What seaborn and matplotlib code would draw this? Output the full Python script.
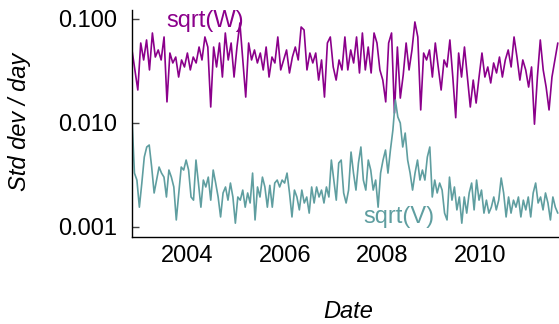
import seaborn as sns
import matplotlib.pyplot as plt
import matplotlib.dates as mdates
import matplotlib.ticker as mticker
import pandas as pd
import numpy as np

# std dev per day (log scale)
sqrt_w = [0.0503, 0.0323, 0.0207, 0.0587, 0.0403, 0.0628, 0.0323, 0.0733, 0.0430, 0.0503,
          0.0403, 0.0671, 0.0159, 0.0470, 0.0377, 0.0430, 0.0276, 0.0403, 0.0345, 0.0470,
          0.0323, 0.0430, 0.0377, 0.0537, 0.0403, 0.0671, 0.0537, 0.0142, 0.0537, 0.0345,
          0.0587, 0.0276, 0.0733, 0.0403, 0.0587, 0.0276, 0.0537, 0.0915, 0.0403, 0.0177,
          0.0587, 0.0403, 0.0503, 0.0377, 0.0470, 0.0323, 0.0537, 0.0276, 0.0430, 0.0377,
          0.0671, 0.0323, 0.0403, 0.0503, 0.0302, 0.0430, 0.0537, 0.0403, 0.0837, 0.0784,
          0.0323, 0.0470, 0.0377, 0.0470, 0.0258, 0.0403, 0.0177, 0.0587, 0.0671, 0.0345,
          0.0258, 0.0403, 0.0323, 0.0671, 0.0323, 0.0503, 0.0377, 0.0671, 0.0302, 0.0733,
          0.0323, 0.0537, 0.0302, 0.0733, 0.0587, 0.0323, 0.0258, 0.0159, 0.0587, 0.0733,
          0.0124, 0.0537, 0.0173, 0.0289, 0.0587, 0.0323, 0.0503, 0.0936, 0.0671, 0.0133,
          0.0470, 0.0403, 0.0503, 0.0276, 0.0587, 0.0345, 0.0207, 0.0403, 0.0345, 0.0628,
          0.0276, 0.0112, 0.0470, 0.0276, 0.0537, 0.0276, 0.0142, 0.0258, 0.0155, 0.0276,
          0.0470, 0.0276, 0.0345, 0.0242, 0.0377, 0.0302, 0.0430, 0.0276, 0.0403, 0.0503,
          0.0345, 0.0671, 0.0430, 0.0258, 0.0403, 0.0323, 0.0221, 0.0345, 0.0097, 0.0276,
          0.0628, 0.0323, 0.0221, 0.0133, 0.0276, 0.0403, 0.0587]

sqrt_v = [0.0111, 0.00328, 0.00281, 0.00154, 0.00263, 0.00468, 0.00585, 0.00611, 0.00375, 0.00211,
          0.00281, 0.00375, 0.00328, 0.00300, 0.00193, 0.00351, 0.00300, 0.00241, 0.00116, 0.00211,
          0.00375, 0.00351, 0.00438, 0.00351, 0.00193, 0.00180, 0.00438, 0.00263, 0.00154, 0.00281,
          0.00241, 0.00300, 0.00180, 0.00351, 0.00263, 0.00193, 0.00124, 0.00211, 0.00241, 0.00180,
          0.00263, 0.00193, 0.00108, 0.00193, 0.00180, 0.00225, 0.00154, 0.00211, 0.00169, 0.00328,
          0.00116, 0.00241, 0.00193, 0.00300, 0.00241, 0.00154, 0.00250, 0.00154, 0.00263, 0.00281,
          0.00241, 0.00281, 0.00263, 0.00328, 0.00211, 0.00124, 0.00225, 0.00193, 0.00145, 0.00225,
          0.00169, 0.00193, 0.00135, 0.00241, 0.00169, 0.00241, 0.00193, 0.00225, 0.00169, 0.00241,
          0.00193, 0.00438, 0.00281, 0.00180, 0.00410, 0.00438, 0.00211, 0.00169, 0.00225, 0.00523,
          0.00328, 0.00225, 0.00410, 0.00585, 0.00281, 0.00225, 0.00438, 0.00351, 0.00225, 0.00281,
          0.00154, 0.00328, 0.00438, 0.00547, 0.00328, 0.00547, 0.00852, 0.0166, 0.0114, 0.00996,
          0.00585, 0.00797, 0.00438, 0.00328, 0.00225, 0.00328, 0.00438, 0.00281, 0.00351, 0.00281,
          0.00468, 0.00585, 0.00193, 0.00281, 0.00211, 0.00263, 0.00225, 0.00135, 0.00116, 0.00300,
          0.00180, 0.00241, 0.00145, 0.00193, 0.00108, 0.00193, 0.00135, 0.00211, 0.00263, 0.00145,
          0.00281, 0.00180, 0.00225, 0.00135, 0.00180, 0.00135, 0.00154, 0.00193, 0.00145, 0.00180,
          0.00294, 0.00211, 0.00124, 0.00193, 0.00135, 0.00180, 0.00154, 0.00193, 0.00124, 0.00180,
          0.00145, 0.00193, 0.00124, 0.00211, 0.00263, 0.00169, 0.00193, 0.00145, 0.00211, 0.00169,
          0.00116, 0.00193, 0.00154, 0.00135]

start_date = '2002-11-16'
end_date = '2011-08-05'

year_labels = ['2004', '2006', '2008', '2010']
tick_years = [2003, 2004, 2005, 2006, 2007, 2008, 2009, 2010, 2011]
y_ticks = [0.001, 0.01, 0.1]
y_tick_labels = ['0.001', '0.010', '0.100']

df_w = pd.DataFrame({'Date': pd.date_range(start_date, end_date, periods=len(sqrt_w)), 'sd': sqrt_w})
df_v = pd.DataFrame({'Date': pd.date_range(start_date, end_date, periods=len(sqrt_v)), 'sd': sqrt_v})

sns.set_style('white')
plt.rcParams['font.family'] = ['Liberation Sans', 'DejaVu Sans']
plt.rcParams['text.color'] = 'black'
plt.rcParams['xtick.color'] = 'black'
plt.rcParams['ytick.color'] = 'black'

purple = '#8b008b'
teal = '#5f9ea0'

fig = plt.figure(figsize=(5.59, 3.24), dpi=100)
ax = fig.add_axes([0.2361, 0.2694, 0.7639, 0.6997])

sns.lineplot(data=df_w, x='Date', y='sd', color=purple, linewidth=1.2, ax=ax)
sns.lineplot(data=df_v, x='Date', y='sd', color=teal, linewidth=1.2, ax=ax)

ax.set_yscale('log')
ax.set_ylim(0.0008, 0.122)
ax.set_xlim(mdates.date2num(pd.Timestamp('2002-11-16')), mdates.date2num(pd.Timestamp('2011-08-14')))

ax.yaxis.set_major_locator(mticker.FixedLocator(y_ticks))
ax.yaxis.set_major_formatter(mticker.FixedFormatter(y_tick_labels))
ax.yaxis.set_minor_locator(mticker.NullLocator())

# year labels sit at Jan 1, the small tick marks at mid-year
ax.set_xticks([mdates.date2num(pd.Timestamp(y + '-01-01')) for y in year_labels])
ax.set_xticklabels(year_labels)
ax.set_xticks([mdates.date2num(pd.Timestamp(f'{y}-07-01')) for y in tick_years], minor=True)

ax.tick_params(axis='x', which='major', length=0, pad=6, labelsize=17, labelcolor='black')
ax.tick_params(axis='x', which='minor', direction='in', length=5, width=1, color='#444444')
ax.tick_params(axis='y', which='major', direction='in', length=5, width=1, pad=11,
               labelsize=17, color='#444444', labelcolor='black', left=True)

for side in ['top', 'right']:
    ax.spines[side].set_visible(False)
for side in ['left', 'bottom']:
    ax.spines[side].set_color('black')
    ax.spines[side].set_linewidth(1)

ax.set_xlabel('')
ax.set_ylabel('')

fig.text(0.035, 0.625, 'Std dev / day', rotation=90, ha='center', va='center',
         fontsize=17, style='italic', color='black')
fig.text(0.6225, 0.0185, 'Date', ha='center', va='baseline', fontsize=17, style='italic',
         color='black')
fig.text(0.297, 0.9176, 'sqrt(W)', color=purple, fontsize=17, va='baseline')
fig.text(0.650, 0.3117, 'sqrt(V)', color=teal, fontsize=17, va='baseline')

fig.savefig('out.png', dpi=100)
